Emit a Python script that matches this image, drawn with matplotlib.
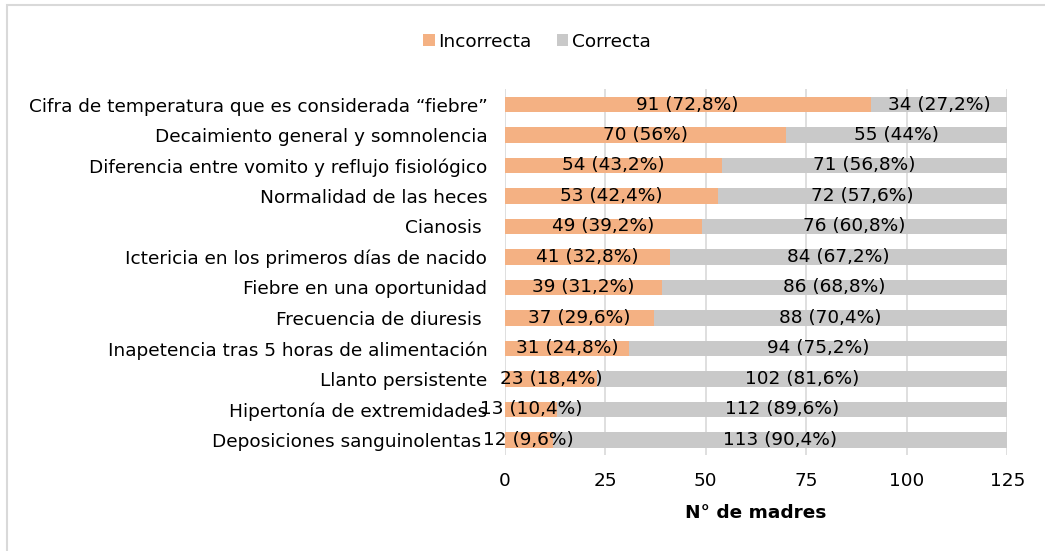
import matplotlib
matplotlib.use("Agg")
import matplotlib.pyplot as plt
from matplotlib.patches import Rectangle

plt.rcParams["font.family"] = ["DejaVu Sans"]

categorias = [
    "Cifra de temperatura que es considerada \u201cfiebre\u201d",
    "Decaimiento general y somnolencia",
    "Diferencia entre vomito y reflujo fisiológico",
    "Normalidad de las heces",
    "Cianosis ",
    "Ictericia en los primeros días de nacido",
    "Fiebre en una oportunidad",
    "Frecuencia de diuresis ",
    "Inapetencia tras 5 horas de alimentación",
    "Llanto persistente",
    "Hipertonía de extremidades",
    "Deposiciones sanguinolentas ",
]
incorrecta = [91, 70, 54, 53, 49, 41, 39, 37, 31, 23, 13, 12]
correcta = [34, 55, 71, 72, 76, 84, 86, 88, 94, 102, 112, 113]
pct_incorrecta = ["72,8%", "56%", "43,2%", "42,4%", "39,2%", "32,8%",
                  "31,2%", "29,6%", "24,8%", "18,4%", "10,4%", "9,6%"]
pct_correcta = ["27,2%", "44%", "56,8%", "57,6%", "60,8%", "67,2%",
                "68,8%", "70,4%", "75,2%", "81,6%", "89,6%", "90,4%"]
xticks = [0, 25, 50, 75, 100, 125]

C_INC = "#F4B183"
C_COR = "#C9C9C9"
FS = 13.3

fig = plt.figure(figsize=(10.45, 5.51), dpi=100)
ax = fig.add_axes([0.483, 0.174, 0.481, 0.664])

y = list(range(len(categorias)))[::-1]
ax.barh(y, incorrecta, height=0.5, color=C_INC, label="Incorrecta", zorder=2)
ax.barh(y, correcta, left=incorrecta, height=0.5, color=C_COR, label="Correcta", zorder=2)

for yi, a, b, pa, pb in zip(y, incorrecta, correcta, pct_incorrecta, pct_correcta):
    ax.text(a / 2, yi, f"{a} ({pa})", ha="center", va="center", fontsize=FS, zorder=3)
    ax.text(a + b / 2, yi, f"{b} ({pb})", ha="center", va="center", fontsize=FS, zorder=3)

ax.set_xlim(0, 125)
ax.set_ylim(-0.5, len(categorias) - 0.5)
ax.set_xticks(xticks)
ax.set_xticklabels([str(t) for t in xticks], fontsize=FS)
ax.set_yticks(y)
ax.set_yticklabels(categorias, fontsize=FS)
ax.tick_params(axis="y", length=0, pad=12.5)
ax.tick_params(axis="x", length=0, pad=12.5)
ax.grid(axis="x", color="#D9D9D9", lw=1.2, zorder=0)
for s in ax.spines.values():
    s.set_visible(False)
ax.set_xlabel("N° de madres", fontsize=FS, fontweight="bold", labelpad=10)

fig.legend(loc="center", bbox_to_anchor=(0.514, 0.924), ncol=2, frameon=False,
           fontsize=FS, handlelength=0.6, handleheight=0.6, handletextpad=0.2,
           columnspacing=1.4)

fig.add_artist(Rectangle((7 / 1045, -0.1), 1.2, 1 - 5 / 551 + 0.1,
                         transform=fig.transFigure, fill=False,
                         edgecolor="#D9D9D9", lw=1.5))

fig.savefig("out.png", dpi=100)
